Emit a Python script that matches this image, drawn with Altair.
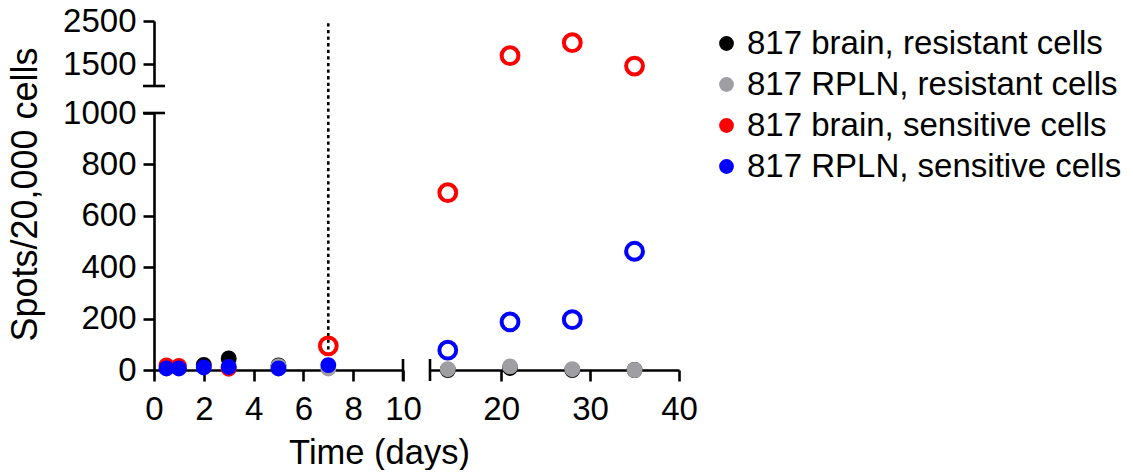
import altair as alt
import pandas as pd

# ---- data -------------------------------------------------------------
groups = [
    "817 brain, resistant cells",
    "817 RPLN, resistant cells",
    "817 brain, sensitive cells",
    "817 RPLN, sensitive cells",
]
colors = ["#000000", "#9e9ea3", "#ff0000", "#0000ff"]

days = [0.5, 1, 2, 3, 5, 7, 14, 21, 28, 35]

brain_resistant = [None, None, 20, 45, 18, None, 0, 8, 0, 0]
rpln_resistant = [None, None, None, None, 15, 6, 3, 14, 3, 0]
brain_sensitive = [18, 16, None, 5, None, 94, 690, 1700, 2000, 1460]
rpln_sensitive = [6, 6, 10, 12, 6, 19, 77, 187, 196, 462]

# open symbols mark the later time points of the sensitive lines
open_brain_sensitive = [False, False, False, False, False, True, True, True, True, True]
open_rpln_sensitive = [False, False, False, False, False, False, True, True, True, True]
open_resistant = [False] * len(days)

series = [
    (groups[0], brain_resistant, open_resistant),
    (groups[1], rpln_resistant, open_resistant),
    (groups[2], brain_sensitive, open_brain_sensitive),
    (groups[3], rpln_sensitive, open_rpln_sensitive),
]

rows = []
for order, (name, values, hollow) in enumerate(series):
    for d, v, h in zip(days, values, hollow):
        if v is not None:
            rows.append({"day": d, "spots": v, "group": name, "hollow": h, "order": order})
df = pd.DataFrame(rows)

# broken-axis segments
x_left = [0, 10]
x_right = [12, 40]
y_low = [0, 1000]
y_high = [1000, 2500]

x_left_ticks = [0, 2, 4, 6, 8, 10]
x_right_ticks = [20, 30, 40]
y_low_ticks = [0, 200, 400, 600, 800, 1000]
y_high_ticks = [1500, 2500]

# dotted marker at day 7 (lower piece runs on through the gap)
marker_day = 7
marker_low = [80, 1104]
marker_high = [1000, 2500]

# break caps
caps_lower_left_v = pd.DataFrame({"day": [10], "spots": [0]})
caps_lower_left_h = pd.DataFrame({"day": [0], "spots": [1000]})
caps_lower_right = pd.DataFrame({"day": [12], "spots": [0]})
caps_upper_left = pd.DataFrame({"day": [0], "spots": [1000]})

# ---- styling ----------------------------------------------------------
FONT = "Liberation Sans"
FS = 33
LW = 2.6
PW, PH_LOW, PH_HIGH = 249, 257, 65

legend = alt.Legend(title=None)


def axis(values, pad=7, **kw):
    return alt.Axis(values=values, format="d", grid=False, domainWidth=LW,
                    domainColor="black", tickWidth=LW, tickColor="black", tickSize=11,
                    labelFontSize=FS, labelFont=FONT, labelColor="black", labelPadding=pad,
                    labelFlush=False, labelOverlap=False, **kw)


def points(data, xdom, ydom, xaxis, yaxis):
    x = alt.X("day:Q", scale=alt.Scale(domain=xdom, nice=False, zero=False), axis=xaxis)
    y = alt.Y("spots:Q", scale=alt.Scale(domain=ydom, nice=False, zero=False), axis=yaxis)
    filled = alt.Chart(data[~data["hollow"]]).mark_point(
        filled=True, size=254, opacity=1, strokeWidth=0, shape="circle"
    ).encode(
        x=x, y=y,
        fill=alt.Fill("group:N", scale=alt.Scale(domain=groups, range=colors), legend=legend),
        order=alt.Order("order:Q"),
    )
    hollow = alt.Chart(data[data["hollow"]]).mark_point(
        filled=False, size=283, opacity=1, strokeWidth=4, shape="circle"
    ).encode(
        x=x, y=y,
        stroke=alt.Stroke("group:N", scale=alt.Scale(domain=groups, range=colors), legend=None),
        order=alt.Order("order:Q"),
    )
    return filled, hollow


def cap(data, orient):
    return alt.Chart(data).mark_tick(
        orient=orient, size=22, thickness=LW, color="black", opacity=1
    ).encode(x="day:Q", y="spots:Q")


def marker(lo, hi):
    return alt.Chart(pd.DataFrame({"day": [marker_day], "lo": [lo], "hi": [hi]})).mark_rule(
        color="black", strokeWidth=2.6, strokeDash=[3.3, 3.3]
    ).encode(x="day:Q", y="lo:Q", y2="hi:Q")


low_df = df[df["spots"] <= 1000]
high_df = df[df["spots"] > 1000]

# upper-left: the y-axis piece and the marker line
ul_f, ul_h = points(high_df[high_df["day"] <= 10], x_left, y_high, None,
                    axis(y_high_ticks, title=None))
upper_left = alt.layer(
    ul_f, ul_h, marker(*marker_high), cap(caps_upper_left, "horizontal"),
).properties(width=PW, height=PH_HIGH)

# upper-right
ur_f, ur_h = points(high_df[high_df["day"] >= 12], x_right, y_high, None, None)
upper_right = alt.layer(ur_f, ur_h).properties(width=PW, height=PH_HIGH)

# lower-left
ll_f, ll_h = points(
    low_df[low_df["day"] <= 10], x_left, y_low,
    axis(x_left_ticks, pad=12, title="Time (days)", titleFontSize=34.5, titleFont=FONT,
         titleFontWeight="normal", titleColor="black", titleAlign="center",
         titleX=225, titleY=93, titleBaseline="alphabetic"),
    axis(y_low_ticks, title="Spots/20,000 cells", titleFontSize=36, titleFont=FONT,
         titleFontWeight="normal", titleColor="black", titleAlign="center",
         titleX=-129, titleY=81, titleBaseline="middle", titleAngle=-90),
)
lower_left = alt.layer(
    marker(*marker_low), ll_f, ll_h,
    cap(caps_lower_left_v, "vertical"),
    cap(caps_lower_left_h, "horizontal"),
).properties(width=PW, height=PH_LOW)

# lower-right
lr_f, lr_h = points(low_df[low_df["day"] >= 12], x_right, y_low,
                    axis(x_right_ticks, pad=12, title=None), None)
lower_right = alt.layer(lr_f, lr_h, cap(caps_lower_right, "vertical")).properties(
    width=PW, height=PH_LOW)

chart = alt.concat(
    upper_left, upper_right, lower_left, lower_right, columns=2, spacing=27,
    bounds="flush",
).resolve_scale(
    x="independent", y="independent"
).configure_view(
    strokeWidth=0
).configure_legend(
    orient="right", offset=6, labelFontSize=FS, labelFont=FONT, labelColor="black",
    symbolSize=218, symbolStrokeWidth=0, symbolType="circle", rowPadding=7,
    labelOffset=4, labelLimit=600, padding=6,
).properties(
    background="white", padding={"left": 7, "top": 5, "right": 0, "bottom": 0}
)

chart.save("out.html", embed_options={"renderer": "svg", "actions": False})
